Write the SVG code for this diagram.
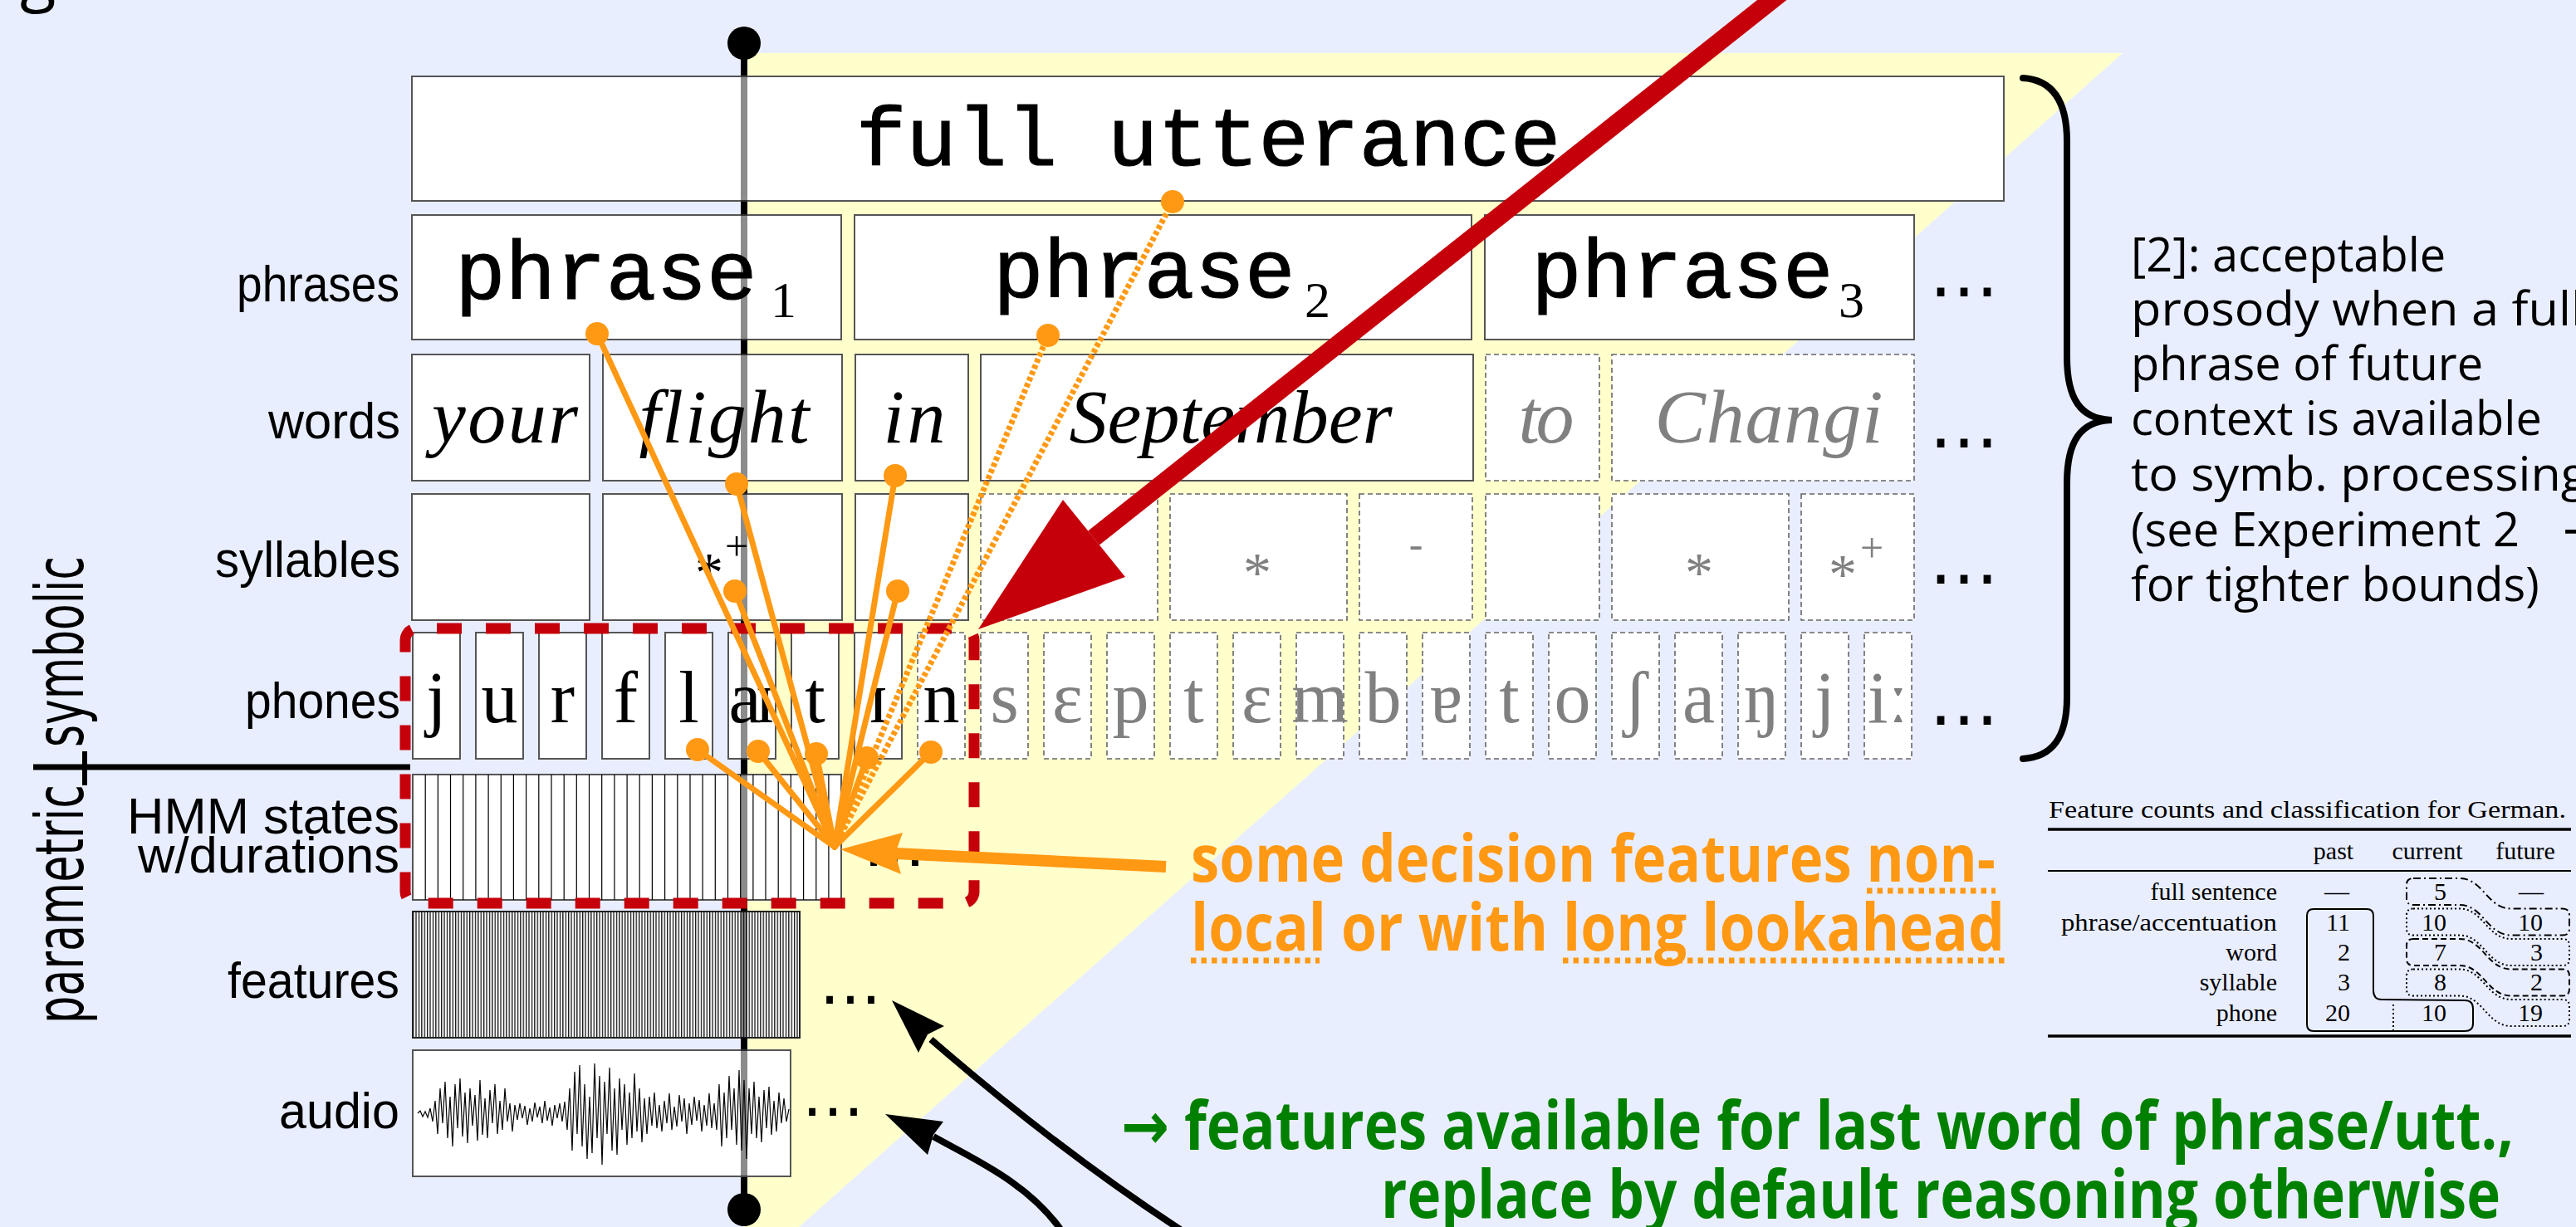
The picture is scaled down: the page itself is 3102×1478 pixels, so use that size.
<svg xmlns="http://www.w3.org/2000/svg" width="3102" height="1478" viewBox="0 0 3102 1478">
<defs>
<style>
.bx{fill:#fff;stroke:#555;stroke-width:2}
.bd{fill:#fff;stroke:#666;stroke-width:1.6;stroke-dasharray:6 4}
.mono{font-family:"Liberation Mono","DejaVu Sans Mono",monospace;font-size:101px;fill:#000;stroke:#000;stroke-width:1.2}
.sub{font-family:"Liberation Serif","DejaVu Serif",serif;font-size:62px;fill:#000}
.wd{font-family:"Liberation Serif","DejaVu Serif",serif;font-style:italic;font-size:92px;text-anchor:middle;fill:#000}
.ph{font-family:"Liberation Serif","DejaVu Serif",serif;font-size:88px;text-anchor:middle;fill:#000}
.sy{font-family:"Liberation Serif","DejaVu Serif",serif;text-anchor:middle;fill:#000}
.gr{fill:#808080}
.lbl{font-family:"Liberation Sans","Open Sans",sans-serif;font-size:61px;text-anchor:end;fill:#000}
.big{font-family:"DejaVu Sans",sans-serif;font-size:80px;fill:#000}
.ell{font-family:"DejaVu Sans",sans-serif;fill:#000}
.ol{stroke:#FF9914;stroke-width:7;fill:none;stroke-linecap:round}
.od{stroke:#FF9914;stroke-width:7;fill:none;stroke-dasharray:5 3}
.dot{fill:#FF9914}
.note{font-family:"Open Sans","DejaVu Sans",sans-serif;font-size:56px;fill:#000}
.org{font-family:"Open Sans","DejaVu Sans",sans-serif;font-weight:bold;font-size:79px;fill:#FF9914}
.grn{font-family:"Open Sans","DejaVu Sans",sans-serif;font-weight:bold;font-size:80px;fill:#008000}
.ul{stroke:#FF9914;stroke-width:7;stroke-dasharray:6.5 6}
.tb{font-family:"Liberation Serif","DejaVu Serif",serif;font-size:30px;fill:#000}
.tn{font-family:"Liberation Serif","DejaVu Serif",serif;font-size:30px;fill:#000;text-anchor:end}
.band{fill:none;stroke:#000;stroke-width:2}
</style>
<pattern id="feat" patternUnits="userSpaceOnUse" x="497" y="0" width="3.4" height="10">
<rect width="3.4" height="10" fill="#fff"/>
<rect width="1.3" height="10" fill="#111"/>
</pattern>
</defs>

<rect x="0" y="0" width="3102" height="1478" fill="#E9EEFF"/>
<polygon points="896,64 2556,64 962,1478 896,1478" fill="#FFFFCC"/>
<text x="24" y="-2" font-family="Open Sans, DejaVu Sans, sans-serif" font-size="80">g</text>

<line x1="896" y1="52" x2="896" y2="1457" stroke="#000" stroke-width="8"/>
<circle cx="896" cy="52" r="20" fill="#000"/>
<circle cx="896" cy="1457" r="20" fill="#000"/>

<g id="utterance">
<rect class="bx" x="496" y="92" width="1917" height="150" stroke="#222"/>
<text class="mono" x="1455" y="199" text-anchor="middle">full utterance</text>
</g>

<g id="phrases">
<rect class="bx" x="496" y="259" width="517" height="150"/>
<text class="mono" x="548" y="360">phrase</text><text class="sub" x="928" y="382">1</text>
<rect class="bx" x="1029" y="259" width="743" height="150"/>
<text class="mono" x="1196" y="358">phrase</text><text class="sub" x="1571" y="382">2</text>
<rect class="bx" x="1788" y="259" width="517" height="150"/>
<text class="mono" x="1844" y="358">phrase</text><text class="sub" x="2214" y="382">3</text>
</g>

<g id="words">
<rect class="bx" x="496" y="427" width="214" height="152"/>
<text class="wd" x="608" y="533" textLength="176">your</text>
<rect class="bx" x="726" y="427" width="288" height="152"/>
<text class="wd" x="872" y="533" textLength="205">flight</text>
<rect class="bx" x="1030" y="427" width="136" height="152"/>
<text class="wd" x="1101" y="533" textLength="75">in</text>
<rect class="bx" x="1181" y="427" width="593" height="152"/>
<text class="wd" x="1482" y="533" textLength="389">September</text>
<rect class="bd" x="1789" y="427" width="137" height="152"/>
<text class="wd gr" x="1862" y="533" textLength="67">to</text>
<rect class="bd" x="1941" y="427" width="364" height="152"/>
<text class="wd gr" x="2130" y="533" textLength="275">Changi</text>
</g>

<g id="syllables">
<rect class="bx" x="496" y="595" width="214" height="152"/>
<rect class="bx" x="726" y="595" width="288" height="152"/>
<text class="sy" x="854" y="712" font-size="68">*</text><text class="sy" x="887" y="675" font-size="50">+</text>
<rect class="bx" x="1030" y="595" width="136" height="152"/>
<rect class="bd" x="1181" y="595" width="213" height="152"/>
<rect class="bd" x="1409" y="595" width="213" height="152"/>
<text class="sy gr" x="1514" y="712" font-size="68">*</text>
<rect class="bd" x="1637" y="595" width="136" height="152"/>
<text class="sy gr" x="1705" y="672" font-size="50">-</text>
<rect class="bd" x="1789" y="595" width="137" height="152"/>
<rect class="bd" x="1941" y="595" width="213" height="152"/>
<text class="sy gr" x="2046" y="712" font-size="68">*</text>
<rect class="bd" x="2169" y="595" width="136" height="152"/>
<text class="sy gr" x="2219" y="714" font-size="68">*</text><text class="sy gr" x="2254" y="677" font-size="50">+</text>
</g>

<g id="phones">
<rect class="bx" x="497" y="762" width="57" height="152"/><text class="ph" x="525.5" y="870">j</text>
<rect class="bx" x="573" y="762" width="57" height="152"/><text class="ph" x="601.5" y="870">u</text>
<rect class="bx" x="649" y="762" width="57" height="152"/><text class="ph" x="677.5" y="870">r</text>
<rect class="bx" x="725" y="762" width="57" height="152"/><text class="ph" x="753.5" y="870">f</text>
<rect class="bx" x="801" y="762" width="57" height="152"/><text class="ph" x="829.5" y="870">l</text>
<rect class="bx" x="877" y="762" width="57" height="152"/><text class="ph" x="905.5" y="870" textLength="56">aɪ</text>
<rect class="bx" x="953" y="762" width="57" height="152"/><text class="ph" x="981.5" y="870">t</text>
<rect class="bx" x="1029" y="762" width="57" height="152"/><text class="ph" x="1057.5" y="870">ɪ</text>
<rect class="bd" x="1105" y="762" width="57" height="152"/><text class="ph" x="1133.5" y="870">n</text>
<rect class="bd" x="1181" y="762" width="57" height="152"/><text class="ph gr" x="1209.5" y="870">s</text>
<rect class="bd" x="1257" y="762" width="57" height="152"/><text class="ph gr" x="1285.5" y="870">ɛ</text>
<rect class="bd" x="1333" y="762" width="57" height="152"/><text class="ph gr" x="1361.5" y="870">p</text>
<rect class="bd" x="1409" y="762" width="57" height="152"/><text class="ph gr" x="1437.5" y="870">t</text>
<rect class="bd" x="1485" y="762" width="57" height="152"/><text class="ph gr" x="1513.5" y="870">ɛ</text>
<rect class="bd" x="1561" y="762" width="57" height="152"/><text class="ph gr" x="1589.5" y="870">m</text>
<rect class="bd" x="1637" y="762" width="57" height="152"/><text class="ph gr" x="1665.5" y="870">b</text>
<rect class="bd" x="1713" y="762" width="57" height="152"/><text class="ph gr" x="1741.5" y="870">ɐ</text>
<rect class="bd" x="1789" y="762" width="57" height="152"/><text class="ph gr" x="1817.5" y="870">t</text>
<rect class="bd" x="1865" y="762" width="57" height="152"/><text class="ph gr" x="1893.5" y="870">o</text>
<rect class="bd" x="1941" y="762" width="57" height="152"/><text class="ph gr" x="1969.5" y="870">ʃ</text>
<rect class="bd" x="2017" y="762" width="57" height="152"/><text class="ph gr" x="2045.5" y="870">a</text>
<rect class="bd" x="2093" y="762" width="57" height="152"/><text class="ph gr" x="2121.5" y="870">ŋ</text>
<rect class="bd" x="2169" y="762" width="57" height="152"/><text class="ph gr" x="2197.5" y="870">j</text>
<rect class="bd" x="2245" y="762" width="57" height="152"/><text class="ph gr" x="2273.5" y="870">iː</text>
</g>

<g id="hmm">
<rect class="bx" x="497" y="933" width="516" height="151" stroke="#222"/>
<path d="M512.2,933V1084M527.4,933V1084M542.5,933V1084M557.7,933V1084M572.9,933V1084M588.1,933V1084M603.3,933V1084M618.4,933V1084M633.6,933V1084M648.8,933V1084M664,933V1084M679.2,933V1084M694.3,933V1084M709.5,933V1084M724.7,933V1084M739.9,933V1084M755.1,933V1084M770.2,933V1084M785.4,933V1084M800.6,933V1084M815.8,933V1084M831,933V1084M846.1,933V1084M861.3,933V1084M876.5,933V1084M891.7,933V1084M906.9,933V1084M922,933V1084M937.2,933V1084M952.4,933V1084M967.6,933V1084M982.8,933V1084M997.9,933V1084" stroke="#000" stroke-width="1.2" fill="none"/>
</g>

<g id="features">
<rect x="497" y="1098" width="466" height="152" fill="url(#feat)" stroke="#222" stroke-width="2"/>
</g>

<g id="audio">
<rect class="bx" x="497" y="1265" width="455" height="152" stroke="#333"/>
<polyline fill="none" stroke="#000" stroke-width="1.2" points="503,1341 506,1338 509,1345 512,1339 515,1346 518,1335 521,1351 524,1326 527,1366 530,1311 533,1353 536,1303 539,1371 542,1321 545,1381 548,1306 551,1359 554,1299 557,1369 560,1316 563,1377 566,1311 569,1356 572,1319 575,1374 578,1301 581,1367 584,1323 587,1371 590,1313 593,1353 596,1306 599,1366 602,1326 605,1361 608,1311 611,1351 614,1329 617,1363 620,1331 623,1349 626,1329 629,1347 632,1332 635,1355 638,1335 641,1351 644,1328 647,1346 650,1333 653,1353 656,1326 659,1350 662,1334 665,1356 668,1331 671,1347 674,1329 677,1351 680,1327 683,1361 686,1311 689,1386 692,1291 695,1366 698,1283 701,1381 704,1306 707,1396 710,1321 713,1389 716,1281 719,1371 722,1296 725,1403 728,1303 731,1366 734,1286 737,1386 740,1311 743,1391 746,1299 749,1361 752,1306 755,1379 758,1316 761,1371 764,1293 767,1363 770,1311 773,1376 776,1323 779,1366 782,1321 785,1356 788,1316 791,1359 794,1331 797,1363 800,1326 803,1353 806,1317 809,1361 812,1333 815,1357 818,1319 821,1351 824,1323 827,1366 830,1329 833,1355 836,1321 839,1350 842,1325 845,1363 848,1331 851,1356 854,1317 857,1359 860,1329 863,1361 866,1306 869,1381 872,1316 875,1371 878,1296 881,1361 884,1311 887,1379 890,1289 893,1386 896,1301 899,1396 902,1311 905,1366 908,1303 911,1371 914,1321 917,1376 920,1313 923,1359 926,1309 929,1367 932,1326 935,1363 938,1316 941,1353 944,1323 947,1351 950,1336"/>
</g>

<g id="ellipses">
<text class="ell" x="2323" y="357" font-size="84">…</text>
<text class="ell" x="2323" y="539" font-size="84">…</text>
<text class="ell" x="2323" y="703" font-size="84">…</text>
<text class="ell" x="2323" y="873" font-size="84">…</text>
<text class="ell" x="1039.5" y="1043" font-size="75">…</text>
<text class="ell" x="986.5" y="1209" font-size="75">…</text>
<text class="ell" x="965.5" y="1344" font-size="75">…</text>
</g>

<line x1="896" y1="92" x2="896" y2="1417" stroke="#000" stroke-opacity="0.45" stroke-width="8"/>

<g id="row-labels">
<text class="lbl" x="481" y="363" textLength="196" lengthAdjust="spacingAndGlyphs">phrases</text>
<text class="lbl" x="482" y="528" textLength="159" lengthAdjust="spacingAndGlyphs">words</text>
<text class="lbl" x="482" y="695" textLength="223" lengthAdjust="spacingAndGlyphs">syllables</text>
<text class="lbl" x="482" y="865" textLength="187" lengthAdjust="spacingAndGlyphs">phones</text>
<text class="lbl" x="481" y="1004" textLength="328" lengthAdjust="spacingAndGlyphs">HMM states</text>
<text class="lbl" x="481" y="1051" textLength="315" lengthAdjust="spacingAndGlyphs">w/durations</text>
<text class="lbl" x="481" y="1202" textLength="207" lengthAdjust="spacingAndGlyphs">features</text>
<text class="lbl" x="481" y="1359" textLength="145" lengthAdjust="spacingAndGlyphs">audio</text>
</g>

<g id="level-labels">
<text class="big" transform="translate(100,900) rotate(-90)" textLength="230" lengthAdjust="spacingAndGlyphs">symbolic</text>
<text class="big" transform="translate(100,1233) rotate(-90)" textLength="288" lengthAdjust="spacingAndGlyphs">parametric</text>
<line x1="40" y1="924" x2="494" y2="924" stroke="#000" stroke-width="7"/>
<line x1="102" y1="905" x2="102" y2="946" stroke="#000" stroke-width="6"/>
</g>

<g id="window">
<rect x="488" y="757" width="685" height="331" rx="14" fill="none" stroke="#C5000B" stroke-width="13" stroke-dasharray="30 29" stroke-dashoffset="35"/>
</g>

<g id="connectors">
<g id="orange-deps">
<line class="od" x1="1005" y1="1020" x2="1412" y2="243"/>
<line class="od" x1="1005" y1="1020" x2="1262" y2="404"/>
<line class="ol" x1="1005" y1="1020" x2="719" y2="402"/>
<line class="ol" x1="1005" y1="1020" x2="887" y2="583"/>
<line class="ol" x1="1005" y1="1020" x2="885" y2="712"/>
<line class="ol" x1="1005" y1="1020" x2="1078" y2="573"/>
<line class="ol" x1="1005" y1="1020" x2="1081" y2="712"/>
<line class="ol" x1="1005" y1="1020" x2="840" y2="903"/>
<line class="ol" x1="1005" y1="1020" x2="913" y2="905"/>
<line class="ol" x1="1005" y1="1020" x2="983" y2="908"/>
<line class="ol" x1="1005" y1="1020" x2="1044" y2="913"/>
<line class="ol" x1="1005" y1="1020" x2="1121" y2="906"/>
<circle class="dot" cx="1412" cy="243" r="14"/>
<circle class="dot" cx="1262" cy="404" r="14"/>
<circle class="dot" cx="719" cy="402" r="14"/>
<circle class="dot" cx="887" cy="583" r="14"/>
<circle class="dot" cx="885" cy="712" r="14"/>
<circle class="dot" cx="1078" cy="573" r="14"/>
<circle class="dot" cx="1081" cy="712" r="14"/>
<circle class="dot" cx="840" cy="903" r="14"/>
<circle class="dot" cx="913" cy="905" r="14"/>
<circle class="dot" cx="983" cy="908" r="14"/>
<circle class="dot" cx="1044" cy="913" r="14"/>
<circle class="dot" cx="1121" cy="906" r="14"/>
</g>
<g id="orange-arrow">
<line x1="1404" y1="1044" x2="1078" y2="1028" stroke="#FF9914" stroke-width="14"/>
<polygon points="1012,1023 1087,1003 1078,1028 1085,1053" fill="#FF9914"/>
</g>
<g id="red-arrow">
<line x1="2159" y1="-20" x2="1317" y2="648" stroke="#C5000B" stroke-width="22"/>
<polygon points="1178,758 1280,602 1355,695" fill="#C5000B"/>
</g>
<g id="black-arrows">
<path d="M1121,1252 Q1280,1390 1435,1490" fill="none" stroke="#000" stroke-width="8"/>
<polygon points="1074,1205 1137,1236 1117,1246 1106,1268" fill="#000"/>
<path d="M1124,1369 C1170,1395 1240,1425 1280,1485" fill="none" stroke="#000" stroke-width="8"/>
<polygon points="1066,1342 1136,1351 1124,1367 1117,1391" fill="#000"/>
</g>
<path id="brace" d="M2436,94 C2470,96 2489,120 2489,170 L2489,430 C2489,480 2505,505 2543,506 C2505,507 2489,532 2489,582 L2489,840 C2489,890 2470,912 2436,914" fill="none" stroke="#000" stroke-width="8" stroke-linecap="round"/>
</g>

<g id="note">
<text class="note" x="2566" y="327">[2]: acceptable</text>
<text class="note" x="2566" y="392" textLength="545" lengthAdjust="spacingAndGlyphs">prosody when a full</text>
<text class="note" x="2566" y="458">phrase of future</text>
<text class="note" x="2566" y="524">context is available</text>
<text class="note" x="2566" y="591" textLength="550" lengthAdjust="spacingAndGlyphs">to symb. processing</text>
<text class="note" x="2566" y="658">(see Experiment 2 <tspan x="3086">→</tspan></text>
<text class="note" x="2566" y="724">for tighter bounds)</text>
</g>

<g id="orange-note">
<text class="org" x="1434" y="1062" textLength="969" lengthAdjust="spacingAndGlyphs">some decision features non-</text>
<text class="org" x="1434" y="1145" textLength="980" lengthAdjust="spacingAndGlyphs">local or with long lookahead</text>
<line class="ul" x1="2248" y1="1073" x2="2403" y2="1073"/>
<line class="ul" x1="1434" y1="1157" x2="1589" y2="1157"/>
<line class="ul" x1="1882" y1="1157" x2="2416" y2="1157"/>
</g>

<g id="green-note">
<text class="grn" x="1350" y="1384" textLength="1677" lengthAdjust="spacingAndGlyphs">→ features available for last word of phrase/utt.,</text>
<text class="grn" x="1663" y="1467" textLength="1348" lengthAdjust="spacingAndGlyphs">replace by default reasoning otherwise</text>
</g>

<g id="table">
<text class="tb" x="2467" y="985" textLength="623" lengthAdjust="spacingAndGlyphs">Feature counts and classification for German.</text>
<line x1="2466" y1="999" x2="3096" y2="999" stroke="#000" stroke-width="3.5"/>
<text class="tb" x="2810" y="1035" text-anchor="middle">past</text>
<text class="tb" x="2923" y="1035" text-anchor="middle">current</text>
<text class="tb" x="3041" y="1035" text-anchor="middle">future</text>
<line x1="2466" y1="1049" x2="3096" y2="1049" stroke="#000" stroke-width="2"/>
<text class="tn" x="2742" y="1084">full sentence</text>
<text class="tn" x="2742" y="1121" textLength="260" lengthAdjust="spacingAndGlyphs">phrase/accentuation</text>
<text class="tn" x="2742" y="1157">word</text>
<text class="tn" x="2742" y="1193">syllable</text>
<text class="tn" x="2742" y="1230">phone</text>
<text class="tb" x="2814" y="1084" text-anchor="middle">—</text>
<text class="tn" x="2830" y="1121">11</text>
<text class="tn" x="2830" y="1157">2</text>
<text class="tn" x="2830" y="1193">3</text>
<text class="tn" x="2830" y="1230">20</text>
<text class="tn" x="2946" y="1084">5</text>
<text class="tn" x="2946" y="1121">10</text>
<text class="tn" x="2946" y="1157">7</text>
<text class="tn" x="2946" y="1193">8</text>
<text class="tn" x="2946" y="1230">10</text>
<text class="tb" x="3048" y="1084" text-anchor="middle">—</text>
<text class="tn" x="3062" y="1121">10</text>
<text class="tn" x="3062" y="1157">3</text>
<text class="tn" x="3062" y="1193">2</text>
<text class="tn" x="3062" y="1230">19</text>
<line x1="2466" y1="1248" x2="3096" y2="1248" stroke="#000" stroke-width="3.5"/>
<path class="band" d="M2786,1095 L2850,1095 Q2858,1095 2858,1103 L2858,1193 Q2858,1204 2868,1204 L2968,1205 Q2978,1205 2978,1215 L2978,1233 Q2978,1242 2968,1242 L2786,1242 Q2778,1242 2778,1234 L2778,1103 Q2778,1095 2786,1095 Z"/>
<line x1="2882" y1="1210" x2="2882" y2="1242" stroke="#000" stroke-width="2" stroke-dasharray="2 3"/>
<path class="band" stroke-dasharray="9 4 2 4" d="M2906,1058 L2962,1058 C2990,1058 2995,1094.5 3024,1094.5 L3086,1094.5 Q3094,1094.5 3094,1102.5 L3094,1118.5 Q3094,1126.5 3086,1126.5 L3024,1126.5 C2995,1126.5 2990,1090 2962,1090 L2906,1090 Q2898,1090 2898,1082 L2898,1066 Q2898,1058 2906,1058 Z"/>
<path class="band" stroke-dasharray="2 3" d="M2906,1094.5 L2962,1094.5 C2990,1094.5 2995,1131 3024,1131 L3086,1131 Q3094,1131 3094,1139 L3094,1155 Q3094,1163 3086,1163 L3024,1163 C2995,1163 2990,1126.5 2962,1126.5 L2906,1126.5 Q2898,1126.5 2898,1118.5 L2898,1102.5 Q2898,1094.5 2906,1094.5 Z"/>
<path class="band" stroke-dasharray="7 4" d="M2906,1131 L2962,1131 C2990,1131 2995,1167.5 3024,1167.5 L3086,1167.5 Q3094,1167.5 3094,1175.5 L3094,1191.5 Q3094,1199.5 3086,1199.5 L3024,1199.5 C2995,1199.5 2990,1163 2962,1163 L2906,1163 Q2898,1163 2898,1155 L2898,1139 Q2898,1131 2906,1131 Z"/>
<path class="band" stroke-dasharray="2 3" d="M2906,1167.5 L2962,1167.5 C2990,1167.5 2995,1204 3024,1204 L3086,1204 Q3094,1204 3094,1212 L3094,1228 Q3094,1236 3086,1236 L3024,1236 C2995,1236 2990,1199.5 2962,1199.5 L2906,1199.5 Q2898,1199.5 2898,1191.5 L2898,1175.5 Q2898,1167.5 2906,1167.5 Z"/>
</g>
</svg>
